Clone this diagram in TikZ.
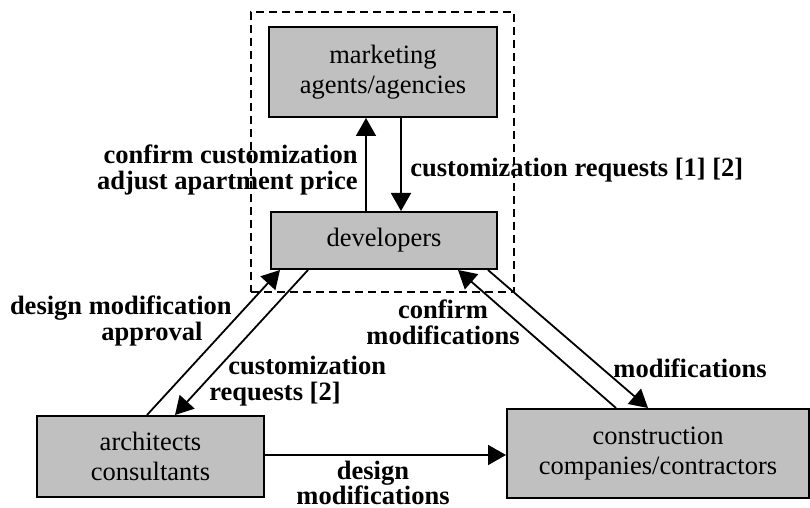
\documentclass[tikz,border=0pt]{standalone}
\usepackage{fontspec}
\setmainfont{Liberation Serif}
\usetikzlibrary{arrows.meta,calc}
\definecolor{boxgray}{HTML}{C0C0C0}
\begin{document}
\begin{tikzpicture}[x=0.5pt,y=-0.5pt,
  box/.style={draw,line width=1pt,fill=boxgray,inner sep=0pt,align=center,
    font=\fontsize{13.25}{15}\selectfont},
  lbl/.style={font=\fontsize{13.25}{12.8}\selectfont\bfseries,inner sep=0pt},
  arr/.style={line width=0.9pt,-{Triangle[length=9pt,width=10pt]}},
  grp/.style={draw,dash pattern=on 4pt off 2.5pt,line width=1pt,inner sep=0pt}]
\useasboundingbox (0,0) rectangle (810,508);
% group frame
\node[grp,minimum width=131.5pt,minimum height=140pt] (frame) at (382.5,152) {};
% boxes
\node[box,minimum width=114pt,minimum height=45pt] (mkt) at (383,72) {marketing\\agents/agencies};
\node[box,minimum width=113pt,minimum height=28.5pt] (dev) at (384,240.5) {developers};
\node[box,minimum width=113.5pt,minimum height=40.5pt] (arch) at (150.5,456.5) {architects\\consultants};
\node[box,minimum width=151pt,minimum height=44.5pt] (cons) at (658,453.5) {construction\\companies/contractors};
% connectors
\draw[arr] ($(dev.north)+(-18,0)$) -- ($(mkt.south)+(-17,0)$);
\draw[arr] ($(mkt.south)+(18,0)$) -- ($(dev.north)+(17,0)$);
\draw[arr] ($(arch.north)+(-3.5,0)$) -- ($(dev.south)+(-104,0)$);
\draw[arr] ($(dev.south)+(-76,0)$) -- ($(arch.north)+(24.5,0)$);
\draw[arr] ($(dev.south)+(104,0)$) -- ($(cons.north)+(-10,0)$);
\draw[arr] ($(cons.north)+(-42,0)$) -- ($(dev.south)+(74,0)$);
\draw[arr] ($(arch.east)+(0,-1.5)$) -- ($(arch.east -| cons.west)+(0,-1.5)$);
% labels
\node[lbl,align=right,anchor=east] (l1) at (358,170) {confirm customization\\adjust apartment price};
\node[lbl,anchor=west] (l2) at (410,170) {customization requests [1] [2]};
\node[lbl,align=right,anchor=east] (l3) at (232,321) {design modification\\approval\hspace*{1.1em}};
\node[lbl,align=left,anchor=west] (l4) at (209,381) {\hspace*{0.72em}customization\\requests [2]};
\node[lbl,align=center] (l5) at (443,322) {confirm\\modifications};
\node[lbl] (l6) at (690,368) {modifications};
\node[lbl,align=center] (l7) at (373,483) {design\\modifications};
\end{tikzpicture}
\end{document}
